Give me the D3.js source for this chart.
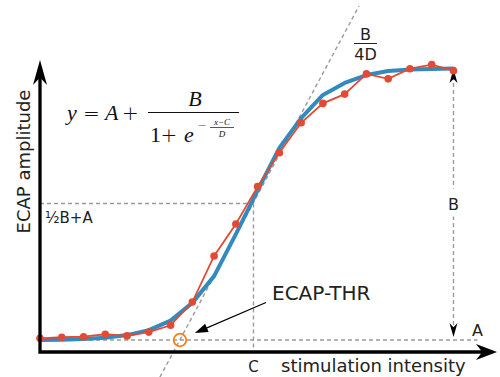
<!DOCTYPE html>
<html>
<head>
<meta charset="utf-8">
<script src="https://cdn.jsdelivr.net/npm/d3@7"></script>
<style>
  body { margin: 0; background: #fff; }
  svg { display: block; font-family: "DejaVu Sans", sans-serif; }
</style>
</head>
<body>
<div id="chart"></div>
<script>
// stimulation steps (x) and ECAP amplitudes (y), arbitrary units
const intensity = [0, 1, 2, 3, 4, 5, 6, 7, 8, 9, 10, 11, 12, 13, 14, 15, 16, 17, 18, 19];
const ecapMeasured = [0.050, 0.054, 0.056, 0.065, 0.059, 0.073, 0.098, 0.183, 0.352, 0.469,
                      0.606, 0.730, 0.840, 0.911, 0.945, 1.019, 1.001, 1.038, 1.053, 1.031];
const ecapFit = [0.044, 0.045, 0.048, 0.052, 0.062, 0.080, 0.115, 0.180, 0.278, 0.432,
                 0.592, 0.748, 0.857, 0.942, 0.986, 1.015, 1.030, 1.035, 1.037, 1.039];

// fit parameters as annotated
const paramA = 0.044;
const paramB = 1.0;
const paramC = 9.81;
const thresholdX = 6.43;
const tangentX = [5.51, 14.66];
const tangentY = [-0.092, 1.268];

const W = 500, H = 377;
const svg = d3.select("#chart").append("svg")
  .attr("width", W).attr("height", H);

const x = d3.scaleLinear().domain([0, 21]).range([40, 497]);
const y = d3.scaleLinear().domain([0, 1.07]).range([352, 60]);

const gray = "#9a9a9a";
const dash = "4,3";
const ink = "#222";

// helper lines
function dashed(x1, y1, x2, y2) {
  svg.append("line")
    .attr("x1", x1).attr("y1", y1).attr("x2", x2).attr("y2", y2)
    .attr("stroke", gray).attr("stroke-width", 1.4)
    .attr("stroke-dasharray", dash);
}

// A level
dashed(x(0), y(paramA), x(20.1), y(paramA));
// half level + C
dashed(x(0), y(paramA + paramB / 2), x(paramC), y(paramA + paramB / 2));
dashed(x(paramC), y(paramA + paramB / 2), x(paramC), y(0));
// tangent slope line
dashed(x(tangentX[0]), y(tangentY[0]), x(tangentX[1]), y(tangentY[1]));

// B arrow (dashed, black heads)
const bx = x(intensity[intensity.length - 1]);
dashed(bx, y(paramA) - 8, bx, y(paramA + paramB) + 8);
function stealth(tx, ty, dir, len, half) {
  // dir = unit vector pointing toward tip
  const [ux, uy] = dir;
  const bxp = tx - ux * len, byp = ty - uy * len;
  const nx = -uy, ny = ux;
  const notch = len * 0.7;
  const p = [
    [tx, ty],
    [bxp + nx * half, byp + ny * half],
    [tx - ux * notch, ty - uy * notch],
    [bxp - nx * half, byp - ny * half]
  ];
  svg.append("path")
    .attr("d", "M" + p.map(d => d.join(",")).join("L") + "Z")
    .attr("fill", "#000");
}
stealth(bx, y(paramA + paramB) + 2, [0, -1], 14, 4);
stealth(bx, y(paramA) - 3, [0, 1], 14, 4);

// label B with white box
svg.append("rect")
  .attr("x", bx - 10).attr("y", y(paramA + paramB / 2) - 15)
  .attr("width", 20).attr("height", 28)
  .attr("fill", "#fff");
svg.append("text")
  .attr("x", bx).attr("y", y(paramA + paramB / 2) + 6)
  .attr("text-anchor", "middle")
  .style("font-size", "16px").style("fill", ink)
  .text("B");

// fitted sigmoid
const line = d3.line().x((d, i) => x(intensity[i])).y(d => y(d));
svg.append("path")
  .datum(ecapFit)
  .attr("d", line)
  .attr("fill", "none")
  .attr("stroke", "#348ABD")
  .attr("stroke-width", 4)
  .attr("stroke-linejoin", "round");

// measured points
svg.append("path")
  .datum(ecapMeasured)
  .attr("d", line)
  .attr("fill", "none")
  .attr("stroke", "#E24A33")
  .attr("stroke-width", 1.8);
svg.selectAll(".dot")
  .data(ecapMeasured)
  .enter()
  .append("circle")
  .attr("class", "dot")
  .attr("cx", (d, i) => x(intensity[i]))
  .attr("cy", d => y(d))
  .attr("r", 3.8)
  .attr("fill", "#E24A33");

// threshold marker
svg.append("circle")
  .attr("cx", x(thresholdX)).attr("cy", y(paramA))
  .attr("r", 6.3)
  .attr("fill", "none")
  .attr("stroke", "#FF7F0E")
  .attr("stroke-width", 1.8);

// ECAP-THR annotation
const tipX = x(thresholdX) + 15, tipY = y(paramA) - 7;
const fromX = 266, fromY = 302.5;
const len = Math.hypot(tipX - fromX, tipY - fromY);
const ux = (tipX - fromX) / len, uy = (tipY - fromY) / len;
svg.append("line")
  .attr("x1", fromX).attr("y1", fromY)
  .attr("x2", tipX - ux * 8).attr("y2", tipY - uy * 8)
  .attr("stroke", "#000").attr("stroke-width", 1.2);
svg.append("path")
  .attr("d", `M${tipX},${tipY}L${tipX - ux * 13 - uy * 4.5},${tipY - uy * 13 + ux * 4.5}L${tipX - ux * 13 + uy * 4.5},${tipY - uy * 13 - ux * 4.5}Z`)
  .attr("fill", "#000");
svg.append("text")
  .attr("x", 272).attr("y", 300)
  .style("font-size", "20px").style("fill", ink)
  .text("ECAP-THR");

// other labels
svg.append("text")
  .attr("x", 45).attr("y", y(paramA + paramB / 2) + 19)
  .style("font-size", "15px").style("fill", ink)
  .text("½B+A");
svg.append("text")
  .attr("x", 472).attr("y", y(paramA) - 3.5)
  .style("font-size", "16px").style("fill", ink)
  .text("A");
svg.append("text")
  .attr("x", x(paramC)).attr("y", 372)
  .attr("text-anchor", "middle")
  .style("font-size", "15px").style("fill", ink)
  .text("C");

// B/4D slope label
const sl = svg.append("g").attr("transform", "translate(365.5,0)");
sl.append("text").attr("x", 0).attr("y", 39.5).attr("text-anchor", "middle")
  .style("font-size", "16px").style("fill", ink).text("B");
sl.append("line").attr("x1", -11.5).attr("x2", 11.5).attr("y1", 43.5).attr("y2", 43.5)
  .attr("stroke", ink).attr("stroke-width", 1);
sl.append("text").attr("x", 0).attr("y", 60).attr("text-anchor", "middle")
  .style("font-size", "16px").style("fill", ink).text("4D");

// formula
const serif = "'Liberation Serif', 'DejaVu Serif', serif";
const f = svg.append("g")
  .style("font-family", serif)
  .style("fill", "#111");
function ftxt(tx, ty, s, size, italic, anchor) {
  f.append("text").attr("x", tx).attr("y", ty)
    .attr("text-anchor", anchor || "start")
    .style("font-size", size + "px")
    .style("font-style", italic ? "italic" : "normal")
    .text(s);
}
function fop(tx, ty, s, size) {
  f.append("text").attr("x", tx).attr("y", ty).attr("text-anchor", "middle")
    .style("font-family", "'DejaVu Sans', sans-serif")
    .style("font-weight", "200")
    .style("font-size", size + "px")
    .text(s);
}
ftxt(67, 120, "y", 22, true);
fop(91.5, 120, "=", 20);
ftxt(105, 120, "A", 22, true);
fop(130.5, 120, "+", 20);
f.append("line").attr("x1", 148).attr("x2", 239).attr("y1", 112.5).attr("y2", 112.5)
  .attr("stroke", "#111").attr("stroke-width", 1.1);
ftxt(195, 106, "B", 22, true, "middle");
ftxt(150, 142, "1", 22, false);
fop(169, 142, "+", 20);
ftxt(184, 142, "e", 22, true);
fop(202, 129, "−", 11);
ftxt(222, 124.5, "x−C", 9, true, "middle");
f.append("line").attr("x1", 210).attr("x2", 234).attr("y1", 127.5).attr("y2", 127.5)
  .attr("stroke", "#111").attr("stroke-width", 0.7);
ftxt(222, 137, "D", 9, true, "middle");

// axes with arrowheads
svg.append("path")
  .attr("d", `M${x(0)},${y.range()[1] + 10}L${x(0)},${y(0)}L${x.range()[1] - 8},${y(0)}`)
  .attr("fill", "none").attr("stroke", "#000")
  .attr("stroke-width", 3.3).attr("stroke-linejoin", "miter");
stealth(x(0), y.range()[1], [0, -1], 25, 7);
stealth(x.range()[1], y(0), [1, 0], 21, 8);

// axis titles
svg.append("text")
  .attr("x", 281).attr("y", 372)
  .style("font-size", "18px").style("fill", ink)
  .text("stimulation intensity");
svg.append("text")
  .attr("transform", `translate(30,${(233 + 90) / 2}) rotate(-90)`)
  .attr("text-anchor", "middle")
  .style("font-size", "18px").style("fill", ink)
  .text("ECAP amplitude");
</script>
</body>
</html>
